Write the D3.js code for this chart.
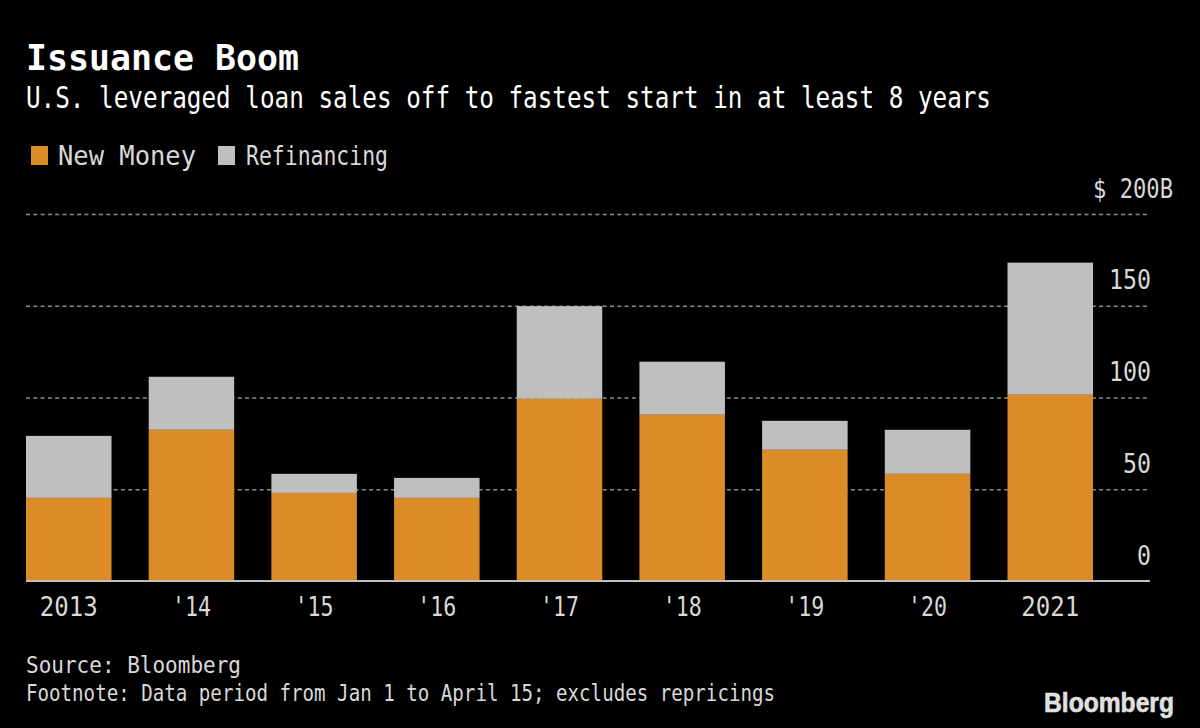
<!DOCTYPE html>
<html>
<head>
<meta charset="utf-8">
<script src="https://cdn.jsdelivr.net/npm/d3@7"></script>
<style>
  html, body { margin: 0; background: #000; }
  text { font-family: "DejaVu Sans Mono", monospace; }
  .domain { display: none; }
</style>
</head>
<body>
<div id="chart"></div>
<script>
var years = ["2013", "'14", "'15", "'16", "'17", "'18", "'19", "'20", "2021"];
var newMoney = [45.3, 82.4, 48, 45.3, 99.3, 90.6, 71.5, 58.4, 101.5];
var refinancing = [33.8, 28.9, 10.4, 10.9, 50.5, 28.9, 15.8, 24, 72];
var yTicks = [0, 50, 100, 150, 200];
var seriesNames = ["New Money", "Refinancing"];
var colors = ["#dc8c26", "#bfbfbf"];
var title = "Issuance Boom";
var subtitle = "U.S. leveraged loan sales off to fastest start in at least 8 years";
var source = "Source: Bloomberg";
var footnote = "Footnote: Data period from Jan 1 to April 15; excludes repricings";

var w = 1200, h = 728;
var svg = d3.select("#chart").append("svg")
  .attr("width", w)
  .attr("height", h)
  .style("display", "block")
  .style("background", "#000");

// squeeze the mono glyphs to the width the text has in the reference
var fit = function(sel, len) {
  sel.attr("textLength", len).attr("lengthAdjust", "spacingAndGlyphs");
};

var x = d3.scaleBand()
  .domain(years)
  .range([26, 1093])
  .paddingInner(0.303)
  .paddingOuter(0);
var y = d3.scaleLinear()
  .domain([0, 200])
  .range([581, 214]);

// gridlines and value labels
var yAxis = d3.axisRight(y)
  .tickValues(yTicks)
  .tickSize(1124)
  .tickFormat(d => d === 200 ? "$ 200B" : d);
var yG = svg.append("g")
  .attr("transform", "translate(26,0)")
  .call(yAxis);
yG.selectAll("line")
  .attr("stroke", "#8c8c8c")
  .attr("stroke-width", 1.5)
  .attr("stroke-dasharray", "4 3.3");
yG.selectAll(".tick").filter(d => d === 0).select("line").remove();
yG.selectAll("text")
  .attr("x", d => d === 200 ? 1147 : 1125)
  .attr("dy", -17)
  .attr("text-anchor", "end")
  .attr("fill", "#d9d9d9")
  .attr("textLength", d => d === 200 ? 80 : String(d).length * 14)
  .attr("lengthAdjust", "spacingAndGlyphs")
  .style("font-size", "27px");

// stacked bars
var stack = years.map((yr, i) => ({year: yr, n: newMoney[i], r: refinancing[i]}));
svg.append("g").selectAll("rect")
  .data(stack)
  .enter().append("rect")
    .attr("x", d => x(d.year))
    .attr("width", x.bandwidth())
    .attr("y", d => y(d.n))
    .attr("height", d => y(0) - y(d.n))
    .attr("fill", colors[0]);
svg.append("g").selectAll("rect")
  .data(stack)
  .enter().append("rect")
    .attr("x", d => x(d.year))
    .attr("width", x.bandwidth())
    .attr("y", d => y(d.n + d.r))
    .attr("height", d => y(d.n) - y(d.n + d.r))
    .attr("fill", colors[1]);

// baseline and year labels
var xAxis = d3.axisBottom(x).tickSize(0).tickPadding(16);
var xG = svg.append("g")
  .attr("transform", "translate(0," + y(0) + ")")
  .call(xAxis);
xG.selectAll("text")
  .attr("fill", "#d9d9d9")
  .attr("textLength", d => d.length === 4 ? 58 : 39)
  .attr("lengthAdjust", "spacingAndGlyphs")
  .style("font-size", "27px");
svg.append("line")
  .attr("x1", 26).attr("x2", 1150)
  .attr("y1", y(0)).attr("y2", y(0))
  .attr("stroke", "#bfbfbf")
  .attr("stroke-width", 2);

// title block
svg.append("text")
  .attr("x", 26).attr("y", 70)
  .attr("fill", "#fff")
  .style("font-size", "35px")
  .style("font-weight", "bold")
  .call(fit, 273)
  .text(title);
svg.append("text")
  .attr("x", 26).attr("y", 108)
  .attr("fill", "#fff")
  .style("font-size", "29.5px")
  .call(fit, 965)
  .text(subtitle);

// legend
var legendX = [31, 218];
var legendLen = [138, 142];
var legend = svg.append("g").selectAll("g")
  .data(seriesNames)
  .enter().append("g")
    .attr("transform", (d, i) => "translate(" + legendX[i] + ",146)");
legend.append("rect")
  .attr("width", 17).attr("height", 19)
  .attr("fill", (d, i) => colors[i]);
legend.append("text")
  .attr("x", (d, i) => i === 0 ? 27 : 28).attr("y", 19)
  .attr("fill", "#d9d9d9")
  .attr("textLength", (d, i) => legendLen[i])
  .attr("lengthAdjust", "spacingAndGlyphs")
  .style("font-size", "27px")
  .text(d => d);

// footer
svg.append("text")
  .attr("x", 26).attr("y", 673)
  .attr("fill", "#d9d9d9")
  .style("font-size", "23px")
  .call(fit, 215)
  .text(source);
svg.append("text")
  .attr("x", 26).attr("y", 701)
  .attr("fill", "#d9d9d9")
  .style("font-size", "23px")
  .call(fit, 749)
  .text(footnote);
svg.append("text")
  .attr("x", 1044).attr("y", 712)
  .attr("fill", "#e0e0e0")
  .attr("stroke", "#e0e0e0")
  .attr("stroke-width", 0.6)
  .style("font-family", "'Liberation Sans', sans-serif")
  .style("font-size", "27px")
  .style("font-weight", "bold")
  .call(fit, 130)
  .text("Bloomberg");
</script>
</body>
</html>
